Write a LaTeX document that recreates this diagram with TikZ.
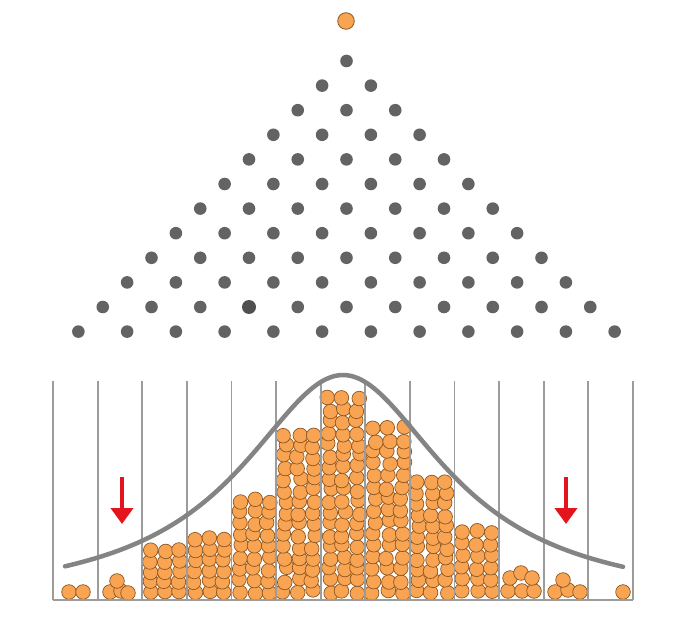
\documentclass[tikz,border=0pt]{standalone}
\usetikzlibrary{arrows.meta}
\definecolor{pegcol}{HTML}{636363}
\definecolor{pegdark}{HTML}{505050}
\definecolor{ballfill}{HTML}{F8A452}
\definecolor{balledge}{HTML}{8F5720}
\definecolor{bincol}{HTML}{9C9C9C}
\definecolor{curvecol}{HTML}{848484}
\definecolor{arrowred}{HTML}{E3141B}
\tikzset{
 peg/.style={fill=pegcol},
 ball/.style={fill=ballfill, draw=balledge, line width=0.7pt},
 binline/.style={draw=bincol, line width=1.8pt},
 bellcurve/.style={draw=curvecol, line width=4.5pt, line cap=round},
 redarrow/.style={draw=arrowred, fill=arrowred, line width=4pt, -{Triangle[width=22pt,length=16pt]}}
}
\newcommand\binstack[3]{%
 \pgfmathtruncatemacro\nrows{round((585-#2)/11.5)+1}%
 \pgfmathsetmacro\rstep{(585-#2)/(\nrows-1)}%
 \foreach \ri in {1,...,\nrows}{%
   \foreach \ci in {-1,0,1}{%
     \pgfmathsetmacro\bx{#1+\ci*14.4+#3*rand}%
     \pgfmathsetmacro\by{592-(\ri-1)*\rstep+#3*rand}%
     \draw[ball] (\bx,\by) circle[radius=7.3pt];
   }%
 }%
}
\begin{document}
\begin{tikzpicture}[x=1pt,y=-1pt]
\pgfmathsetseed{11}
\fill[white] (0,0) rectangle (680,620);
\useasboundingbox (0,0) rectangle (680,620);
% top ball
\draw[ball, line width=0.8pt] (346,21) circle[radius=8.3pt];
% pegs
\foreach \i in {0,...,11}{%
  \foreach \j in {0,...,\i}{%
    \fill[peg] ({346.5+(\j-\i/2)*48.75},{61+24.6*\i}) circle[radius=6.3pt];
  }%
}
\fill[pegdark] (249,307) circle[radius=7pt];
% balls
\binstack{164.5}{544}{1.2}
\binstack{209}{532}{1.4}
\binstack{254}{494}{1.8}
\binstack{299}{427}{2.2}
\binstack{343.5}{392}{2.2}
\binstack{388}{422}{2.2}
\binstack{432}{475}{1.8}
\binstack{477}{525}{1.4}
\foreach \p in {(69,592),(83,592),
                (110,592),(121,591),(128,593),(117,581),
                (508,591),(522,591),(534,591),(510,578),(521,573),(532,578),
                (555,592),(568,590),(580,592),(563,580),
                (623,592)}{%
  \draw[ball] \p circle[radius=7.3pt];
}
% bins
\foreach \k in {0,...,13}{%
  \draw[binline] ({53+44.6*\k},381) -- ({53+44.6*\k},600);
}
\draw[binline] (53,600) -- (633,600);
% curve
\draw[bellcurve] plot[domain=65:623, samples=140, smooth] (\x, {605-230/(1+((\x-343)/125)^2)});
% arrows
\coordinate (la0) at (122,477);
\coordinate (la1) at (122,524);
\coordinate (ra0) at (566,477);
\coordinate (ra1) at (566,524);
\draw[redarrow] (la0) -- (la1);
\draw[redarrow] (ra0) -- (ra1);
\end{tikzpicture}
\end{document}
